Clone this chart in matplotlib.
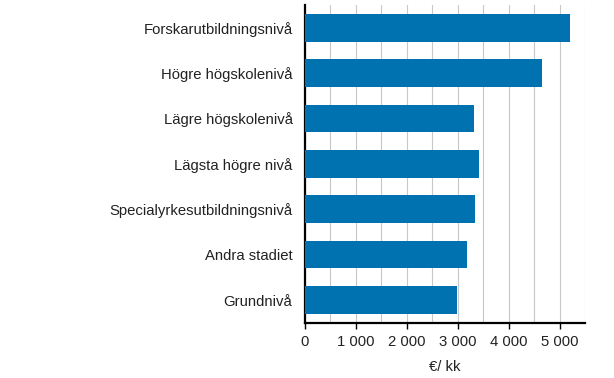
import matplotlib
matplotlib.use("Agg")
import matplotlib.pyplot as plt
from matplotlib.ticker import MultipleLocator, FuncFormatter

categories = ["Forskarutbildningsnivå", "Högre högskolenivå", "Lägre högskolenivå",
              "Lägsta högre nivå", "Specialyrkesutbildningsnivå", "Andra stadiet", "Grundnivå"]
values = [5215, 4660, 3325, 3425, 3345, 3185, 2990]
xticks = [0, 1000, 2000, 3000, 4000, 5000]
xlabel = "€/ kk"

plt.rcParams['font.family'] = ['Liberation Sans', 'DejaVu Sans']
fig = plt.figure(figsize=(6.14, 3.78), dpi=100)
ax = fig.add_axes([305/614, 1-322.7/378, 280/614, 317.7/378])

ypos = list(range(len(categories)))
ax.barh(ypos, values, height=0.61, color="#0072B0", zorder=3)
ax.set_yticks(ypos)
ax.set_yticklabels(categories, fontsize=10.7, color="#222222")
ax.set_ylim(len(categories) - 0.5, -0.5)
ax.set_xlim(0, 5500)
ax.set_xticks(xticks)
ax.xaxis.set_major_formatter(FuncFormatter(lambda v, p: f"{int(v):,}".replace(",", " ")))
ax.xaxis.set_minor_locator(MultipleLocator(500))
ax.grid(axis="x", which="both", color="#c8c8c8", linewidth=0.8, zorder=0)
ax.tick_params(axis="y", length=0, pad=9)
ax.tick_params(axis="x", which="major", length=4, width=1, color="black", labelsize=10.7, pad=5, labelcolor="#222222")
ax.tick_params(axis="x", which="minor", length=0)
for s in ["top", "right"]:
    ax.spines[s].set_visible(False)
ax.spines["left"].set_linewidth(1.6)
ax.spines["bottom"].set_linewidth(1.6)
ax.set_xlabel(xlabel, fontsize=10.7, labelpad=8, color="#222222")
fig.savefig("out.png", dpi=100)
